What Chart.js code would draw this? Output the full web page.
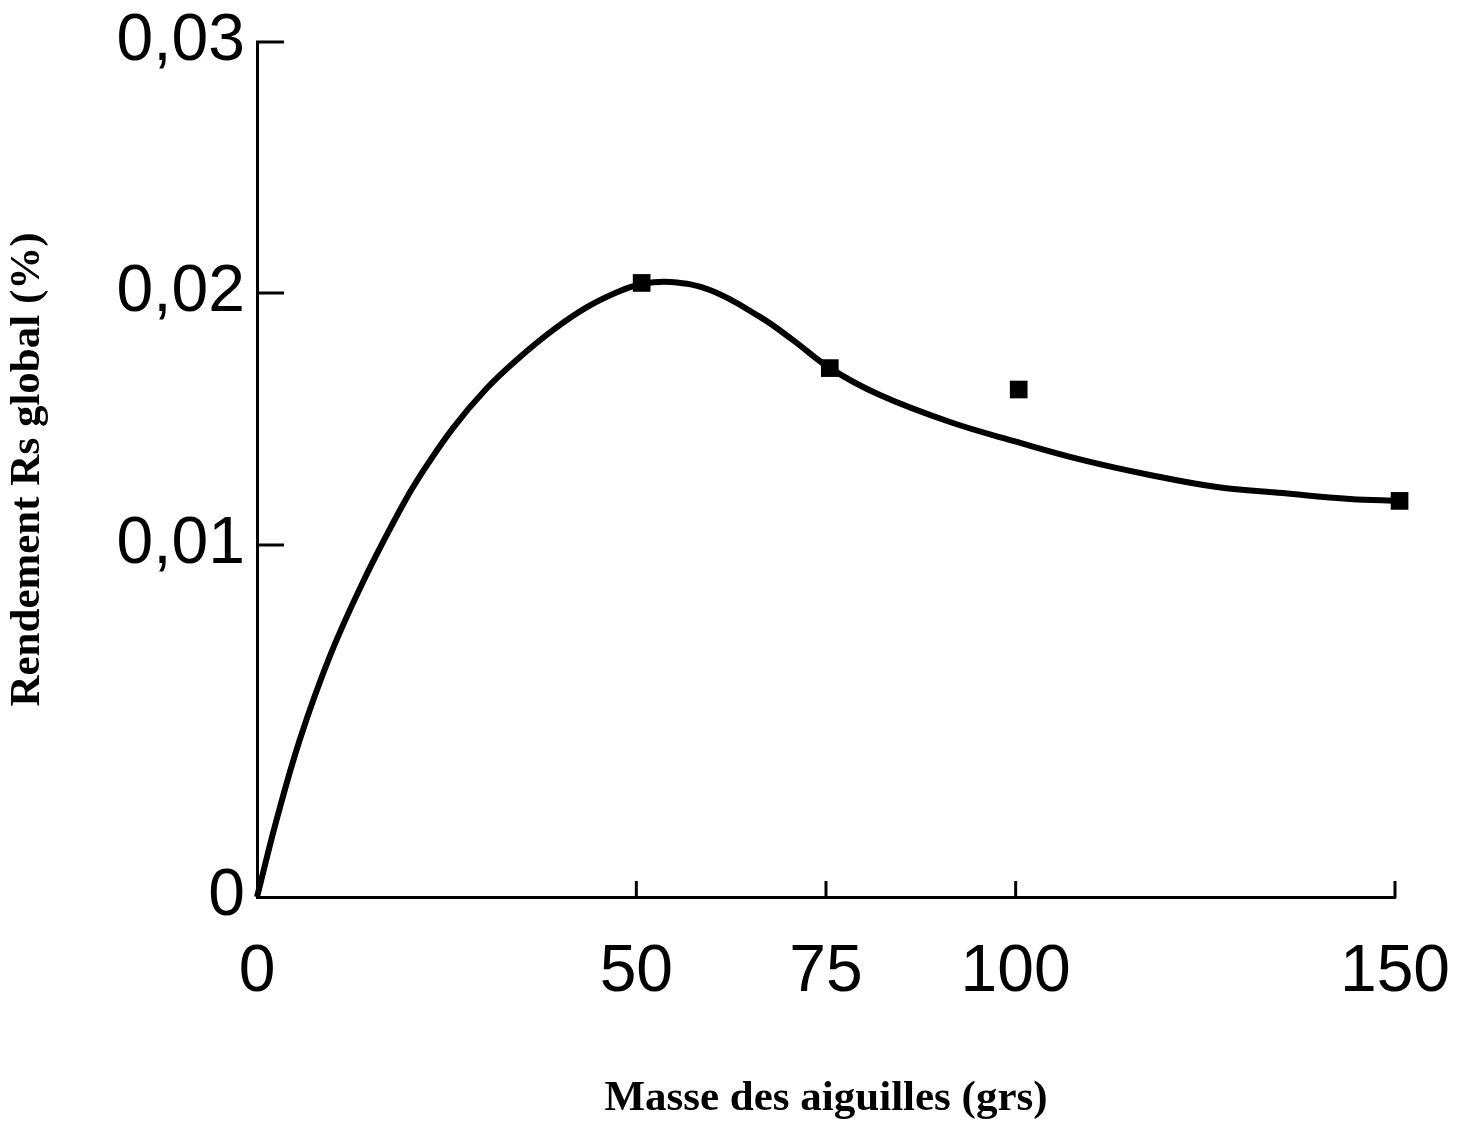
<!DOCTYPE html>
<html><head><meta charset="utf-8">
<script src="https://cdn.jsdelivr.net/npm/chart.js@4/dist/chart.umd.min.js"></script>
<style>html,body{margin:0;padding:0;background:#fff}#wrap{width:1469px;height:1125px;position:relative}</style>
</head><body><div id="wrap"><canvas id="c"></canvas></div>
<script>
const xTickValues = [0, 50, 75, 100, 150];
const yTickValues = [0, 0.01, 0.02, 0.03];
const yTickLabels = ['0', '0,01', '0,02', '0,03'];
const measuredMass = [50.7, 75.5, 100.4, 150.6];
const measuredYield = [0.0204, 0.01702, 0.01617, 0.01175];
const curveMass = [0, 2.64, 5.67, 9.62, 13.97, 18.85, 21.48, 25.83, 30.32, 34.66, 39.01, 43.49, 47.84, 50.74, 54.43, 59.71, 66.30, 70.65, 75.52, 82.11, 91.34, 100.17, 108.87, 117.70, 126.53, 135.23, 144.06, 150.65];
const curveYield = [0, 0.00224, 0.00449, 0.00685, 0.00895, 0.01139, 0.01274, 0.01464, 0.01623, 0.01746, 0.01853, 0.01944, 0.02008, 0.02036, 0.02044, 0.02012, 0.01905, 0.01813, 0.01702, 0.01595, 0.01488, 0.01409, 0.01337, 0.01278, 0.0123, 0.01206, 0.01183, 0.01175];
const xTitle = 'Masse des aiguilles (grs)';
const yTitle = 'Rendement Rs global (%)';

// The original y axis is not evenly spaced: fraction of axis height at each tick value
const Y_FRACS = [0, 352 / 855, 604 / 855, 1];

class PiecewiseScale extends Chart.LinearScale {
  _frac(v) {
    const vs = yTickValues, fs = Y_FRACS;
    let i = 0;
    if (v <= vs[0]) i = 0;
    else if (v >= vs[vs.length - 1]) i = vs.length - 2;
    else { while (v > vs[i + 1]) i++; }
    return fs[i] + (v - vs[i]) / (vs[i + 1] - vs[i]) * (fs[i + 1] - fs[i]);
  }
  getPixelForValue(value) {
    return this.bottom - this._frac(value) * (this.bottom - this.top);
  }
  getValueForPixel(pixel) {
    const f = (this.bottom - pixel) / (this.bottom - this.top);
    const vs = yTickValues, fs = Y_FRACS;
    let i = 0;
    if (f <= fs[0]) i = 0;
    else if (f >= fs[fs.length - 1]) i = fs.length - 2;
    else { while (f > fs[i + 1]) i++; }
    return vs[i] + (f - fs[i]) / (fs[i + 1] - fs[i]) * (vs[i + 1] - vs[i]);
  }
}
PiecewiseScale.id = 'piecewise';
PiecewiseScale.defaults = Chart.LinearScale.defaults;
Chart.register(PiecewiseScale);

const innerTicks = {
  id: 'innerTicks',
  afterDatasetsDraw(chart) {
    const { ctx, scales: { x, y } } = chart;
    ctx.save();
    ctx.strokeStyle = '#000';
    ctx.lineWidth = 3;
    y.ticks.forEach(t => {
      if (t.value === 0) return;
      const py = y.getPixelForValue(t.value);
      ctx.beginPath(); ctx.moveTo(x.left - 1, py); ctx.lineTo(x.left + 27, py); ctx.stroke();
    });
    x.ticks.forEach(t => {
      if (t.value === 0) return;
      const px = x.getPixelForValue(t.value);
      ctx.beginPath(); ctx.moveTo(px, y.bottom + 1); ctx.lineTo(px, y.bottom - 16); ctx.stroke();
    });
    ctx.restore();
  }
};

const tickFont = { family: '"Liberation Sans", Arial, sans-serif', size: 66 };
const titleFont = { family: '"Liberation Serif", "Times New Roman", serif', size: 43, weight: 'bold' };

new Chart(document.getElementById('c'), {
  type: 'scatter',
  data: {
    datasets: [
      {
        label: 'courbe',
        data: curveMass.map((m, i) => ({ x: m, y: curveYield[i] })),
        showLine: true,
        borderColor: '#000',
        borderWidth: 6,
        pointRadius: 0,
        tension: 0.4,
        clip: false
      },
      {
        label: 'mesures',
        data: measuredMass.map((m, i) => ({ x: m, y: measuredYield[i] })),
        pointStyle: 'rect',
        pointRadius: 12.5,
        backgroundColor: '#000',
        borderColor: '#000',
        borderWidth: 0,
        clip: false
      }
    ]
  },
  options: {
    responsive: true,
    maintainAspectRatio: false,
    animation: false,
    layout: { padding: { top: 42, right: 74, bottom: 0, left: 0 } },
    plugins: { legend: { display: false }, tooltip: { enabled: false } },
    scales: {
      x: {
        type: 'linear',
        min: 0, max: 150,
        afterBuildTicks: s => { s.ticks = xTickValues.map(v => ({ value: v })); },
        afterFit: s => { s.height = 228; s.paddingLeft = 0; s.paddingRight = 0; },
        grid: { display: false, drawTicks: false },
        border: { display: true, color: '#000', width: 3 },
        ticks: { color: '#000', font: tickFont, padding: 36, maxRotation: 0, autoSkip: false },
        title: { display: true, text: xTitle, color: '#000', font: titleFont, padding: { top: 0, bottom: 0 } }
      },
      y: {
        type: 'piecewise',
        min: 0, max: 0.03,
        afterBuildTicks: s => { s.ticks = yTickValues.map(v => ({ value: v })); },
        afterFit: s => { s.width = 257; s.paddingTop = 0; s.paddingBottom = 0; },
        grid: { display: false, drawTicks: false },
        border: { display: true, color: '#000', width: 3 },
        ticks: {
          color: '#000', font: tickFont, padding: 12, autoSkip: false,
          callback: v => yTickLabels[yTickValues.indexOf(v)]
        },
        title: { display: true, text: yTitle, color: '#000', font: titleFont, padding: { top: 2, bottom: 0 } }
      }
    }
  },
  plugins: [innerTicks]
});
</script>
</body></html>
